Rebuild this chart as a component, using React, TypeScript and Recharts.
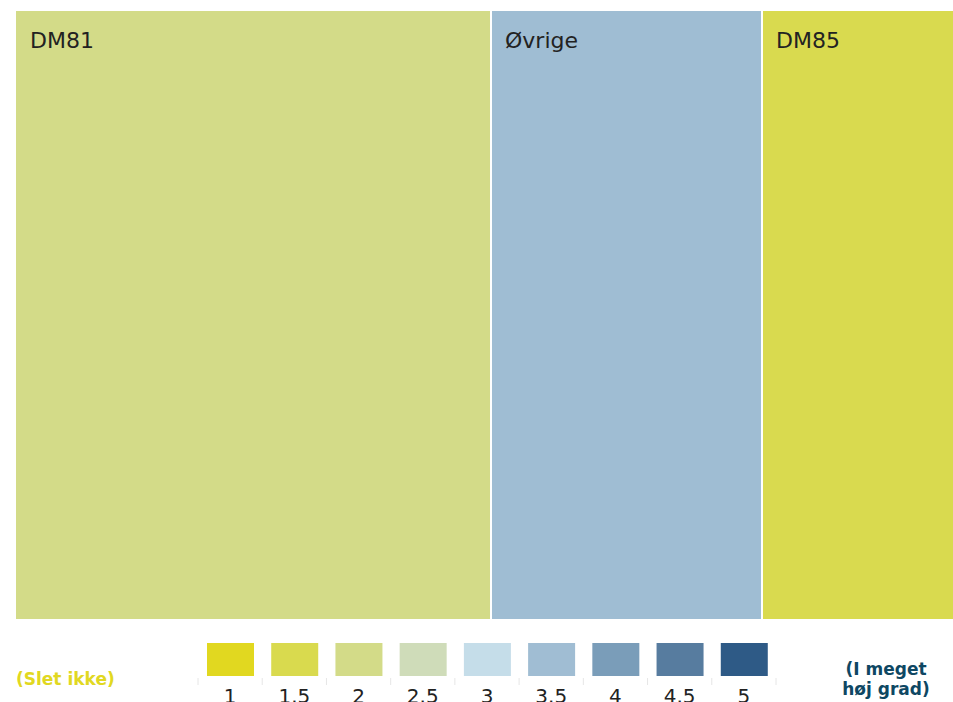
import React from 'react';
import { Treemap, BarChart, Bar, XAxis, YAxis, Cell } from 'recharts';

// treemap boxes
const categories = ['DM81', 'Øvrige', 'DM85'];
const values = [475, 271, 191];
const boxColors = ['#d3db88', '#9fbdd3', '#d9da4f'];

// colour scale legend
const scaleLabels = ['1', '1.5', '2', '2.5', '3', '3.5', '4', '4.5', '5'];
const scaleColors = ['#e1d820', '#d9da4e', '#d3db88', '#cfdcb9', '#c5dde9', '#a0bdd3', '#7a9db9', '#577c9f', '#2e5a86'];
const lowLabel = '(Slet ikke)';
const highLabel = ['(I meget', 'høj grad)'];

const FONT = '"DejaVu Sans", Verdana, sans-serif';
const BAND = 578 / scaleLabels.length;

const treeData = categories.map((name, i) => ({ name, size: values[i], color: boxColors[i] }));
const legendData = scaleLabels.map((label) => ({ label, v: 1 }));

const Box = (props: any) => {
  const { x, y, width, height, depth, name, color } = props;
  if (depth !== 1) return <g />;
  return (
    <g>
      <rect x={x} y={y} width={width} height={height} fill={color} />
      {x > 0 && <line x1={x} x2={x} y1={y} y2={y + height} stroke="#fff" strokeWidth={2} />}
      {y > 0 && <line x1={x} x2={x + width} y1={y} y2={y} stroke="#fff" strokeWidth={2} />}
      <text x={x + 14} y={y + 37} fontSize={22} fill="#222" fontFamily={FONT}>
        {name}
      </text>
    </g>
  );
};

const ScaleTick = (props: any) => {
  const { x, y, payload, index } = props;
  const last = index === scaleLabels.length - 1;
  return (
    <g>
      <line x1={x - BAND / 2} x2={x - BAND / 2} y1={y + 2} y2={y + 9} stroke="#e6e6e6" />
      {last && <line x1={x + BAND / 2} x2={x + BAND / 2} y1={y + 2} y2={y + 9} stroke="#e6e6e6" />}
      <text x={x} y={y + 27} textAnchor="middle" fontSize={20} fill="#222" fontFamily={FONT}>
        {payload.value}
      </text>
    </g>
  );
};

export default function App() {
  return (
    <div
      style={{
        position: 'absolute',
        left: 0,
        top: 0,
        width: 953,
        height: 702,
        overflow: 'hidden',
        background: '#fff',
        fontFamily: FONT,
      }}
    >
      <div style={{ position: 'absolute', left: 16, top: 11 }}>
        <Treemap
          width={937}
          height={608}
          data={treeData}
          dataKey="size"
          nameKey="name"
          aspectRatio={(1 + Math.sqrt(5)) / 2}
          isAnimationActive={false}
          content={Box}
        />
      </div>

      <div style={{ position: 'absolute', left: 190, top: 630 }}>
        <BarChart width={594} height={80} data={legendData} margin={{ top: 13, right: 8, left: 8, bottom: 0 }}>
          <XAxis
            dataKey="label"
            height={34}
            axisLine={false}
            tickLine={false}
            tickSize={0}
            tickMargin={0}
            interval={0}
            tick={<ScaleTick />}
          />
          <YAxis hide domain={[0, 1]} />
          <Bar dataKey="v" barSize={47} isAnimationActive={false}>
            {legendData.map((d, i) => (
              <Cell key={d.label} fill={scaleColors[i]} />
            ))}
          </Bar>
        </BarChart>
      </div>

      <svg width={953} height={702} style={{ position: 'absolute', left: 0, top: 0, pointerEvents: 'none' }}>
        <text x={16} y={685} fontSize={17} fontWeight="bold" fill="#e1d821" fontFamily={FONT}>
          {lowLabel}
        </text>
        <text x={886} y={675} fontSize={17} fontWeight="bold" fill="#0e4763" textAnchor="middle" fontFamily={FONT}>
          {highLabel[0]}
        </text>
        <text x={886} y={695} fontSize={17} fontWeight="bold" fill="#0e4763" textAnchor="middle" fontFamily={FONT}>
          {highLabel[1]}
        </text>
      </svg>
    </div>
  );
}
